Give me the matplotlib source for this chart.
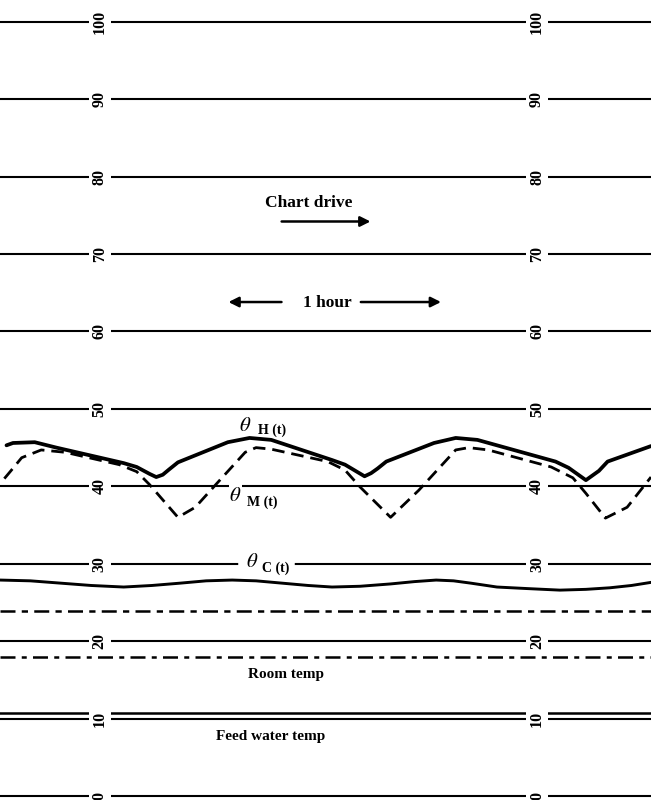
import matplotlib
matplotlib.use('Agg')
import matplotlib.pyplot as plt

plt.rcParams['mathtext.fontset'] = 'stix'

# ---- data (time in hours, temperature in deg C) ----
grid_levels = [0, 10, 20, 30, 40, 50, 60, 70, 80, 90, 100]
grid_labels = ['0', '10', '20', '30', '40', '50', '60', '70', '80', '90', '100']
label_times = [0.46, 2.475]

h_time = [0.03, 0.06, 0.16, 0.26, 0.57, 0.63, 0.69, 0.72, 0.75, 0.78, 0.82,
          1.05, 1.15, 1.25, 1.53, 1.59, 1.65, 1.68, 1.71, 1.74, 1.78,
          2.00, 2.10, 2.20, 2.56, 2.62, 2.67, 2.70, 2.73, 2.76, 2.80, 3.00]
h_temp = [45.3, 45.6, 45.7, 45.0, 43.0, 42.5, 41.6, 41.2, 41.5, 42.2, 43.1,
          45.7, 46.25, 46.0, 43.4, 42.8, 41.8, 41.3, 41.7, 42.3, 43.2,
          45.6, 46.25, 46.0, 43.2, 42.4, 41.4, 40.8, 41.4, 42.0, 43.2, 45.2]

m_time = [0.02, 0.05, 0.10, 0.19, 0.30, 0.55, 0.63, 0.69, 0.82, 0.90, 1.00,
          1.13, 1.18, 1.25, 1.51, 1.59, 1.66, 1.80, 1.93, 2.10, 2.16, 2.25,
          2.54, 2.64, 2.70, 2.79, 2.89, 3.00]
m_temp = [41.0, 42.0, 43.7, 44.7, 44.4, 42.8, 41.9, 40.2, 36.0, 37.3, 40.4,
          44.4, 45.0, 44.8, 43.2, 42.1, 39.9, 36.0, 39.5, 44.7, 45.0, 44.7,
          42.5, 41.1, 39.1, 35.9, 37.3, 41.2]

c_time = [0.00, 0.14, 0.28, 0.42, 0.57, 0.70, 0.83, 0.95, 1.07, 1.18, 1.30, 1.42,
          1.53, 1.66, 1.80, 1.91, 2.01, 2.09, 2.17, 2.29, 2.43, 2.58, 2.70, 2.81, 2.91, 3.00]
c_temp = [27.9, 27.8, 27.5, 27.2, 27.0, 27.2, 27.5, 27.8, 27.9, 27.8, 27.5, 27.2,
          27.0, 27.1, 27.4, 27.7, 27.9, 27.8, 27.5, 27.0, 26.8, 26.6, 26.7, 26.9, 27.2, 27.6]

room_upper = 23.95
room_lower = 17.96
feed_water = 10.76

serif = ['Liberation Serif', 'DejaVu Serif']

fig = plt.figure(figsize=(6.51, 8.0), dpi=100)
ax = fig.add_axes([0, 0, 1, 1])
ax.set_xlim(0, 3.0)
ax.set_ylim(-0.5, 102.8)
ax.axis('off')

# grid lines with labels
for lev, lab in zip(grid_levels, grid_labels):
    ax.axhline(lev, color='black', lw=1.5, zorder=1)
    for xt in label_times:
        ax.text(xt, lev, lab, rotation=90, ha='center', va='center',
                fontsize=11.5, fontweight='bold', family=serif, zorder=3,
                bbox=dict(facecolor='white', edgecolor='none', pad=2.0))

# recorded traces
ax.plot(h_time, h_temp, color='black', lw=2.7, solid_joinstyle='round',
        solid_capstyle='round', zorder=4)
ax.plot(m_time, m_temp, color='black', lw=2.0, linestyle=(0, (4.5, 2.5)), zorder=4)
ax.plot(c_time, c_temp, color='black', lw=2.1, solid_joinstyle='round', zorder=4)
ax.axhline(room_upper, color='black', lw=1.8, linestyle=(0, (6, 2.5, 2.5, 2.5)), zorder=2)
ax.axhline(room_lower, color='black', lw=1.8, linestyle=(0, (6, 2.5, 2, 2.5)), zorder=2)
ax.axhline(feed_water, color='black', lw=1.8, zorder=2)

# annotations
ax.text(1.424, 76.6, 'Chart drive', ha='center', va='center', fontsize=12.5,
        fontweight='bold', family=serif)
ax.annotate('', xy=(1.72, 74.2), xytext=(1.285, 74.2),
            arrowprops=dict(arrowstyle='-|>', lw=1.8, color='black', mutation_scale=15))

ax.text(1.51, 63.7, '1 hour', ha='center', va='center', fontsize=12.5,
        fontweight='bold', family=serif)
ax.annotate('', xy=(1.04, 63.8), xytext=(1.31, 63.8),
            arrowprops=dict(arrowstyle='-|>', lw=1.8, color='black', mutation_scale=15))
ax.annotate('', xy=(2.045, 63.8), xytext=(1.65, 63.8),
            arrowprops=dict(arrowstyle='-|>', lw=1.8, color='black', mutation_scale=15))

# theta labels
ax.text(1.13, 47.9, r'$\theta$', ha='center', va='center', fontsize=15, zorder=5)
ax.text(1.255, 47.3, 'H (t)', ha='center', va='center', fontsize=10,
        fontweight='bold', family=serif, zorder=5)

ax.text(1.085, 38.9, r'$\theta$', ha='center', va='center', fontsize=15, zorder=5,
        bbox=dict(facecolor='white', edgecolor='none', pad=0.5))
ax.text(1.21, 38.0, 'M (t)', ha='center', va='center', fontsize=10,
        fontweight='bold', family=serif, zorder=5)

ax.plot([1.11, 1.345], [30, 30], color='white', lw=4, zorder=2)
ax.text(1.16, 30.3, r'$\theta$', ha='center', va='center', fontsize=15, zorder=6)
ax.text(1.27, 29.4, 'C (t)', ha='center', va='center', fontsize=10,
        fontweight='bold', family=serif, zorder=5)

ax.text(1.32, 15.7, 'Room temp', ha='center', va='center', fontsize=11,
        fontweight='bold', family=serif)
ax.text(1.245, 7.7, 'Feed water temp', ha='center', va='center', fontsize=11,
        fontweight='bold', family=serif)

fig.savefig('out.png', dpi=100, facecolor='white')
